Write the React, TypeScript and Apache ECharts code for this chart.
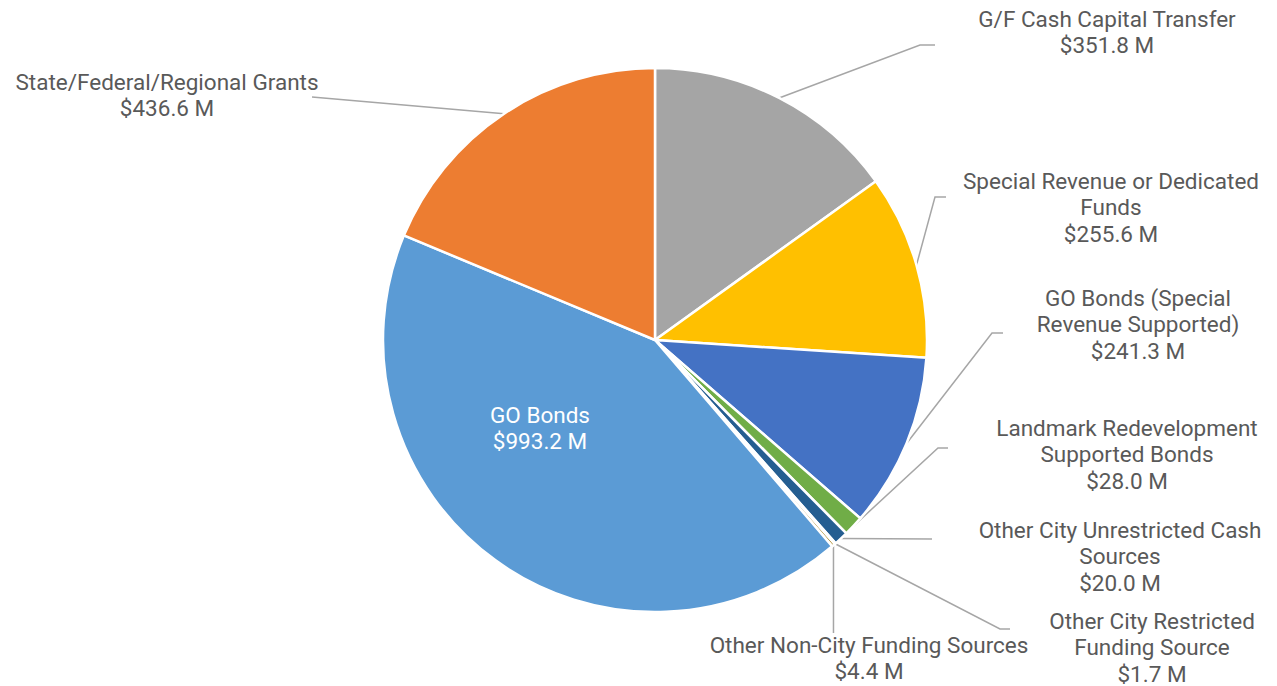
import React, { useEffect, useRef } from "react";
import * as echarts from "echarts";

const categories = [
  "G/F Cash Capital Transfer",
  "Special Revenue or Dedicated\nFunds",
  "GO Bonds (Special\nRevenue Supported)",
  "Landmark Redevelopment\nSupported Bonds",
  "Other City Unrestricted Cash\nSources",
  "Other City Restricted\nFunding Source",
  "Other Non-City Funding Sources",
  "GO Bonds",
  "State/Federal/Regional Grants",
];
const values = [351.8, 255.6, 241.3, 28.0, 20.0, 1.7, 4.4, 993.2, 436.6];
const colors = ["#A5A5A5", "#FFC000", "#4472C4", "#70AD47", "#255E91", "#636363", "#997300", "#5B9BD5", "#ED7D31"];

// label anchor (center) and leader-line elbow/end points per slice (empty line = inside label)
const labelSpots: { x: number; y: number; line: number[][]; inside?: boolean }[] = [
  { x: 1107, y: 32, line: [[920, 45], [935, 45]] },
  { x: 1111, y: 207, line: [[935, 197], [946, 197]] },
  { x: 1138, y: 324, line: [[992, 333], [1003, 333]] },
  { x: 1127, y: 454, line: [[938, 448], [948, 448]] },
  { x: 1120, y: 556, line: [[932, 539]] },
  { x: 1152, y: 647, line: [[1000, 629], [1010, 629]] },
  { x: 869, y: 658, line: [[-1, 633]] },
  { x: 540, y: 428, line: [], inside: true },
  { x: 167, y: 95, line: [[312, 97]] },
];

export default function App() {
  const ref = useRef<HTMLDivElement>(null);
  useEffect(() => {
    document.body.style.margin = "0";
    const chart = echarts.init(ref.current!, undefined, { renderer: "svg" });
    const data = categories.map((name, i) => ({
      name,
      value: values[i],
      itemStyle: { color: colors[i] },
      label: labelSpots[i].inside
        ? { position: "inside", color: "#ffffff" }
        : { position: "outside", color: "#595959" },
      labelLine: { show: !labelSpots[i].inside },
    }));
    chart.setOption({
      animation: false,
      backgroundColor: "#ffffff",
      series: [
        {
          type: "pie",
          center: [655, 340],
          radius: 272,
          startAngle: 90,
          clockwise: true,
          avoidLabelOverlap: false,
          itemStyle: { borderColor: "#ffffff", borderWidth: 2.5 },
          label: {
            show: true,
            fontFamily: "Roboto, 'Liberation Sans', sans-serif",
            fontSize: 22.5,
            lineHeight: 26.5,
            align: "center",
            formatter: (p: any) => `${p.name}\n$${p.value.toFixed(1)} M`,
          },
          labelLine: {
            show: true,
            lineStyle: { color: "#A6A6A6", width: 1.5 },
          },
          labelLayout: (p: any) => {
            const s = labelSpots[p.dataIndex];
            if (s.inside) {
              return { x: s.x, y: s.y, align: "center", verticalAlign: "middle" };
            }
            const start = p.labelLinePoints ? p.labelLinePoints[0] : [655, 340];
            const pts = [start, ...s.line.map((pt) => [pt[0] < 0 ? start[0] : pt[0], pt[1]])];
            return {
              x: s.x,
              y: s.y,
              align: "center",
              verticalAlign: "middle",
              labelLinePoints: pts,
            };
          },
          data,
        },
      ],
    });
    return () => chart.dispose();
  }, []);
  return <div ref={ref} style={{ width: 1277, height: 686 }} />;
}
